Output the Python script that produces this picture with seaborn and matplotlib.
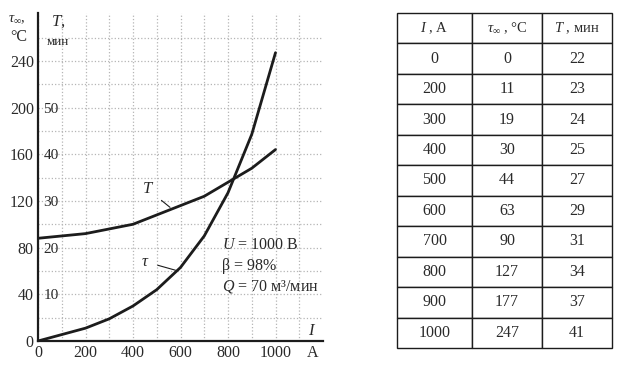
import numpy as np
import pandas as pd
import seaborn as sns
from matplotlib import pyplot as plt

# table data (current, steady overheating, time constant)
current = [0, 200, 300, 400, 500, 600, 700, 800, 900, 1000]
tau_inf = [0, 11, 19, 30, 44, 63, 90, 127, 177, 247]
t_const = [22, 23, 24, 25, 27, 29, 31, 34, 37, 41]

tau_ticks = [0, 40, 80, 120, 160, 200, 240]
t_ticks = [10, 20, 30, 40, 50]
i_ticks = [0, 200, 400, 600, 800, 1000]

sns.set_theme(style='white')
plt.rcParams['font.family'] = ['Liberation Serif', 'DejaVu Serif']
plt.rcParams['mathtext.fontset'] = 'custom'
plt.rcParams['mathtext.rm'] = 'Liberation Serif'
plt.rcParams['mathtext.it'] = 'Liberation Serif:italic'

ink = '#1c1c1c'
txt = '#2a2a2a'

fig = plt.figure(figsize=(6.25, 3.71), dpi=100)
ax = fig.add_axes([38 / 625, 1 - 341 / 371, 285 / 625, 328 / 371])

df = pd.DataFrame({'I': current, 'tau': tau_inf, 'T': t_const})

ax.set_xlim(0, 1200)
ax.set_ylim(0, 281)
ax.set_xticks(i_ticks)
ax.set_yticks(tau_ticks)
ax.set_xticks(np.arange(100, 1201, 200), minor=True)
ax.set_yticks(np.arange(20, 281, 40), minor=True)
ax.grid(which='both', color='#b5b5b5', linestyle=':', linewidth=0.9)
ax.tick_params(which='both', length=0, labelsize=11.5, colors=txt, pad=3)
for s in ['top', 'right']:
    ax.spines[s].set_visible(False)
for s in ['left', 'bottom']:
    ax.spines[s].set_color(ink)
    ax.spines[s].set_linewidth(1.6)

sns.lineplot(data=df, x='I', y='tau', ax=ax, color=ink, linewidth=2)

ax2 = ax.twinx()
ax2.set_ylim(0, 281 / 4)
sns.lineplot(data=df, x='I', y='T', ax=ax2, color=ink, linewidth=2)
ax2.yaxis.tick_left()
ax2.set_yticks(t_ticks)
ax2.tick_params(axis='y', length=0, pad=-4, labelsize=11, colors=txt)
for lab in ax2.get_yticklabels():
    lab.set_horizontalalignment('left')
for s in ax2.spines.values():
    s.set_visible(False)
ax2.set_ylabel('')
ax.set_xlabel('')
ax.set_ylabel('')

# axis titles
fig.text(17 / 625, 1 - 20 / 371, r'$\tau_{\infty}$,', fontsize=10.5, color=txt, ha='center', va='center')
fig.text(19 / 625, 1 - 37 / 371, '°C', fontsize=11.5, color=txt, ha='center', va='center')
fig.text(58 / 625, 1 - 22 / 371, '$T$,', fontsize=12, color=txt, ha='center', va='center')
fig.text(58 / 625, 1 - 42 / 371, 'мин', fontsize=9.5, color=txt, ha='center', va='center')
fig.text(312 / 625, 1 - 331 / 371, '$I$', fontsize=12, color=txt, ha='center', va='center')
fig.text(313 / 625, 1 - 353 / 371, 'A', fontsize=11.5, color=txt, ha='center', va='center')

# curve labels
ax.annotate('$T$', xy=(565, 113), xytext=(462, 130), fontsize=12, color=txt,
            ha='center', va='center', arrowprops=dict(arrowstyle='-', color=ink, lw=0.8, shrinkA=4))
ax.annotate(r'$\tau$', xy=(590, 60), xytext=(450, 68), fontsize=12, color=txt,
            ha='center', va='center', arrowprops=dict(arrowstyle='-', color=ink, lw=0.8, shrinkA=4))

ax.text(775, 82, '$U$ = 1000 В', fontsize=11.5, color=txt, va='center')
ax.text(775, 64, 'β = 98%', fontsize=11.5, color=txt, va='center')
ax.text(775, 47, '$Q$ = 70 м³/мин', fontsize=11.5, color=txt, va='center')

# table
tab_ax = fig.add_axes([397 / 625, 1 - 348 / 371, 215 / 625, 335 / 371])
tab_ax.axis('off')
header = ['$I$ , A', r'$\tau_{\infty}$ , °C', '$T$ , мин']
cells = [[str(a), str(b), str(c)] for a, b, c in zip(current, tau_inf, t_const)]
table = tab_ax.table(cellText=cells, colLabels=header, cellLoc='center',
                     colWidths=[75, 70, 70], bbox=[0, 0, 1, 1])
table.auto_set_font_size(False)
for (r, c), cell in table.get_celld().items():
    cell.set_edgecolor(ink)
    cell.set_linewidth(1.0)
    cell.get_text().set_color(txt)
    cell.get_text().set_fontsize(11.5 if r > 0 else 10.5)

fig.savefig('out.png', dpi=100)
